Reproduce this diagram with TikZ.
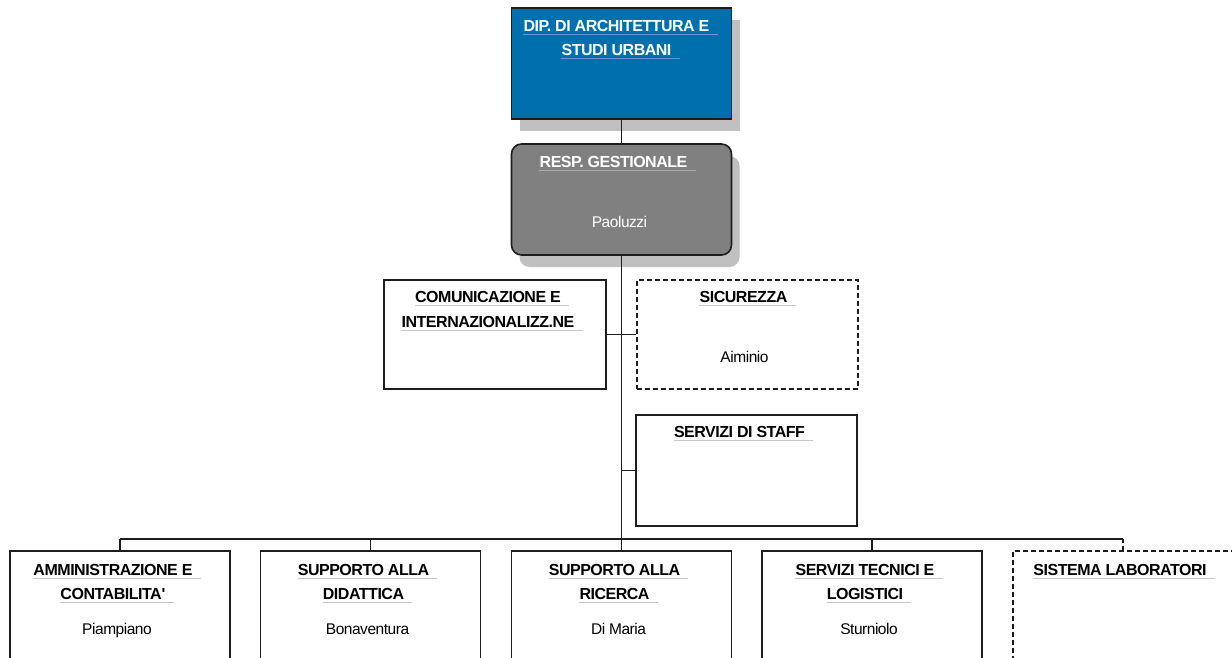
\documentclass[tikz,border=0pt]{standalone}
\usepackage{fontspec}
\newfontfamily\lsans{Liberation Sans}[LetterSpace=-3]
\usetikzlibrary{shadows}
\definecolor{lc}{RGB}{30,30,30}
\definecolor{bluec}{RGB}{0,112,172}
\definecolor{grayc}{RGB}{128,128,128}
\definecolor{shadowc}{RGB}{192,192,192}
\definecolor{ulW}{RGB}{200,200,200}
\definecolor{ulB}{RGB}{95,155,205}
\definecolor{ulG}{RGB}{170,170,170}
\newcommand\myhdfont{\lsans\bfseries\fontsize{16}{19}\selectfont}
\newcommand\mynmfont{\lsans\fontsize{15.5}{18}\selectfont}
\begin{document}
\begin{tikzpicture}[x=1pt,y=-1pt,
  box/.style={draw=lc, line width=1.6pt, minimum width=220pt, minimum height=111pt, inner sep=0pt, fill=white},
  dbox/.style={box, line width=1.3pt, dash pattern=on 5pt off 3pt},
  shd/.style={general shadow={fill=shadowc, shadow xshift=8pt, shadow yshift=-12pt}},
  conn/.style={draw=lc, line width=1.6pt},
  dconn/.style={conn, line width=1.3pt, dash pattern=on 4pt off 3pt},
  hd/.style n args={2}{font=\myhdfont, text=#1, inner sep=0pt, anchor=base,
    execute at end node={\kern8pt},
    append after command={([yshift=-3pt]\tikzlastnode.base west) edge[draw=#2, line width=1pt] ([yshift=-3pt]\tikzlastnode.base east)}},
  hdW/.style={hd={black}{ulW}},
  hdB/.style={hd={white}{ulB}},
  hdG/.style={hd={white}{ulG}},
  nm/.style={font=\mynmfont, inner sep=0pt, anchor=base}
]
\path[use as bounding box] (0,0) rectangle (1232,658);
\clip (0,0) rectangle (1232,658);

% boxes
\node[box, fill=bluec, shd] (dip) at (621.5,63.5) {};
\node[box, fill=grayc, rounded corners=10pt, shd] (resp) at (621.5,199.5) {};
\node[box, minimum width=222pt, minimum height=109pt] (com) at (495,334.5) {};
\node[dbox, minimum width=221pt, minimum height=109pt] (sic) at (747.5,334.5) {};
\node[box, minimum width=221pt] (staff) at (746.5,470.5) {};
\node[box] (amm) at (120,606.5) {};
\node[box] (did) at (370.5,606.5) {};
\node[box] (ric) at (621.5,606.5) {};
\node[box] (tec) at (872,606.5) {};
\node[dbox] (lab) at (1123,606.5) {};

% connectors
\coordinate (bus) at (621.5,539);
\draw[conn] (dip.south) -- (resp.north);
\draw[conn] (resp.south) -- (bus);
\draw[conn] (com.east) -- (sic.west);
\draw[conn] (staff.west) -- (staff.west -| bus);
\draw[conn] (amm.north |- bus) -- (lab.north |- bus);
\foreach \n in {amm,did,ric,tec} \draw[conn] (\n.north) -- (\n.north |- bus);
\draw[dconn] (lab.north |- bus) -- (lab.north);

% texts
\node[hdB] (dip1) at ([xshift=-1pt,yshift=-24pt]dip.north) {DIP. DI ARCHITETTURA E};
\node[hdB] (dip2) at ([xshift=-1pt,yshift=-48pt]dip.north) {STUDI URBANI};

\node[hdG] (resp1) at ([xshift=-4pt,yshift=-24pt]resp.north) {RESP. GESTIONALE};
\node[nm, text=white] (resp3) at ([xshift=-2pt,yshift=-84pt]resp.north) {Paoluzzi};

\node[hdW] (com1) at ([xshift=-3pt,yshift=-23pt]com.north) {COMUNICAZIONE E};
\node[hdW] (com2) at ([xshift=-3pt,yshift=-48pt]com.north) {INTERNAZIONALIZZ.NE};

\node[hdW] (sic1) at ([xshift=0pt,yshift=-23pt]sic.north) {SICUREZZA};
\node[nm] (sic3) at ([xshift=-3pt,yshift=-83pt]sic.north) {Aiminio};

\node[hdW] (staff1) at ([xshift=-3pt,yshift=-23pt]staff.north) {SERVIZI DI STAFF};

\node[hdW] (amm1) at ([xshift=-3pt,yshift=-25pt]amm.north) {AMMINISTRAZIONE E};
\node[hdW] (amm2) at ([xshift=-3pt,yshift=-49pt]amm.north) {CONTABILITA\textquotesingle};
\node[nm] (amm3) at ([xshift=-3pt,yshift=-84pt]amm.north) {Piampiano};

\node[hdW] (did1) at ([xshift=-3pt,yshift=-25pt]did.north) {SUPPORTO ALLA};
\node[hdW] (did2) at ([xshift=-3pt,yshift=-49pt]did.north) {DIDATTICA};
\node[nm] (did3) at ([xshift=-3pt,yshift=-84pt]did.north) {Bonaventura};

\node[hdW] (ric1) at ([xshift=-3pt,yshift=-25pt]ric.north) {SUPPORTO ALLA};
\node[hdW] (ric2) at ([xshift=-3pt,yshift=-49pt]ric.north) {RICERCA};
\node[nm] (ric3) at ([xshift=-3pt,yshift=-84pt]ric.north) {Di Maria};

\node[hdW] (tec1) at ([xshift=-3pt,yshift=-25pt]tec.north) {SERVIZI TECNICI E};
\node[hdW] (tec2) at ([xshift=-3pt,yshift=-49pt]tec.north) {LOGISTICI};
\node[nm] (tec3) at ([xshift=-3pt,yshift=-84pt]tec.north) {Sturniolo};

\node[hdW] (lab1) at ([xshift=1pt,yshift=-25pt]lab.north) {SISTEMA LABORATORI};
\end{tikzpicture}
\end{document}
